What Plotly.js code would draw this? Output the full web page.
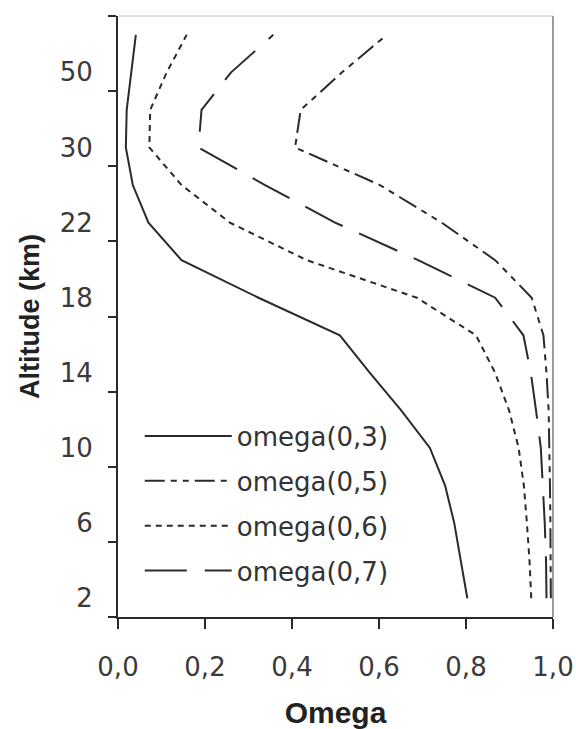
<!DOCTYPE html>
<html>
<head>
<meta charset="utf-8">
<script src="https://cdn.plot.ly/plotly-3.0.1.min.js"></script>
<style>html,body{margin:0;padding:0;background:#fff;}</style>
</head>
<body>
<div id="chart" style="width:576px;height:729px;"></div>
<script>
// Altitude levels (km), bottom to top; every other level is labelled
const altitudes = ['2','4','6','8','10','12','14','16','18','20','22','26','30','40','50','60'];

// Omega profiles, one value per altitude level
const omega03 = [0.803, 0.788, 0.773, 0.752, 0.717, 0.651, 0.579, 0.510, 0.323, 0.146, 0.070, 0.034, 0.018, 0.020, 0.031, 0.041];
const omega05 = [0.995, 0.995, 0.994, 0.993, 0.992, 0.990, 0.985, 0.978, 0.951, 0.867, 0.744, 0.602, 0.407, 0.420, 0.515, 0.618];
const omega06 = [0.950, 0.946, 0.940, 0.933, 0.921, 0.899, 0.867, 0.823, 0.687, 0.434, 0.257, 0.146, 0.072, 0.074, 0.112, 0.158];
const omega07 = [0.985, 0.984, 0.981, 0.977, 0.972, 0.961, 0.949, 0.932, 0.867, 0.690, 0.499, 0.338, 0.185, 0.192, 0.260, 0.357];

const seriesNames = ['omega(0,3)', 'omega(0,5)', 'omega(0,6)', 'omega(0,7)'];
const seriesValues = [omega03, omega05, omega06, omega07];
const seriesDash = ['solid', '20px,6px,6px,6px,6px,6px', '6px,5px', '42px,18px'];

const ink = '#2a2a2a';

const traces = seriesValues.map((vals, i) => ({
  type: 'scatter',
  mode: 'lines',
  name: seriesNames[i],
  legendgroup: 'g' + i,
  x: vals,
  y: altitudes,
  line: {color: ink, width: 2, dash: seriesDash[i]},
  hoverinfo: 'skip'
}));

const tickFont = {family: 'DejaVu Sans, sans-serif', size: 26, color: '#3a3a3a'};

const layout = {
  width: 576,
  height: 729,
  margin: {l: 118, r: 23, t: 16, b: 112, pad: 0},
  paper_bgcolor: '#ffffff',
  plot_bgcolor: '#ffffff',
  separators: ', ',
  showlegend: true,
  legend: {
    x: 0.05, y: 0.34, xanchor: 'left', yanchor: 'top',
    bgcolor: 'rgba(0,0,0,0)',
    borderwidth: 0,
    itemwidth: 87,
    traceorder: 'grouped',
    tracegroupgap: 8,
    font: {family: 'DejaVu Sans, sans-serif', size: 26, color: '#333333'}
  },
  xaxis: {
    range: [0, 1],
    tick0: 0,
    dtick: 0.2,
    tickformat: '.1f',
    ticks: 'outside',
    ticklen: 10,
    tickwidth: 2,
    tickcolor: ink,
    ticklabelstandoff: 16,
    showline: true,
    linewidth: 2,
    linecolor: ink,
    showgrid: false,
    zeroline: false,
    tickfont: tickFont,
    title: {text: '<b>Omega</b>', font: {family: 'Liberation Sans, Arial, sans-serif', size: 30, color: '#222222'}, standoff: 21}
  },
  yaxis: {
    type: 'category',
    categoryorder: 'array',
    categoryarray: altitudes,
    range: [-0.5, altitudes.length - 0.5],
    tickmode: 'linear',
    tick0: 0,
    dtick: 2,
    tickson: 'boundaries',
    ticks: 'outside',
    ticklen: 8,
    tickwidth: 2,
    tickcolor: ink,
    ticklabelstandoff: 18,
    showline: true,
    linewidth: 2,
    linecolor: ink,
    showgrid: false,
    zeroline: false,
    tickfont: tickFont,
    title: {text: '<b>Altitude (km)</b>', font: {family: 'Liberation Sans, Arial, sans-serif', size: 27, color: '#222222'}, standoff: 12}
  },
  shapes: [
    {type: 'line', xref: 'paper', yref: 'paper', x0: 1, x1: 1, y0: 0, y1: 1, line: {color: '#9a9a9a', width: 2}, layer: 'below'},
    {type: 'line', xref: 'paper', yref: 'paper', x0: 0, x1: 1, y0: 1, y1: 1, line: {color: '#c4c4c4', width: 1}, layer: 'below'}
  ]
};

Plotly.newPlot('chart', traces, layout, {displayModeBar: false, staticPlot: true});
</script>
</body>
</html>
